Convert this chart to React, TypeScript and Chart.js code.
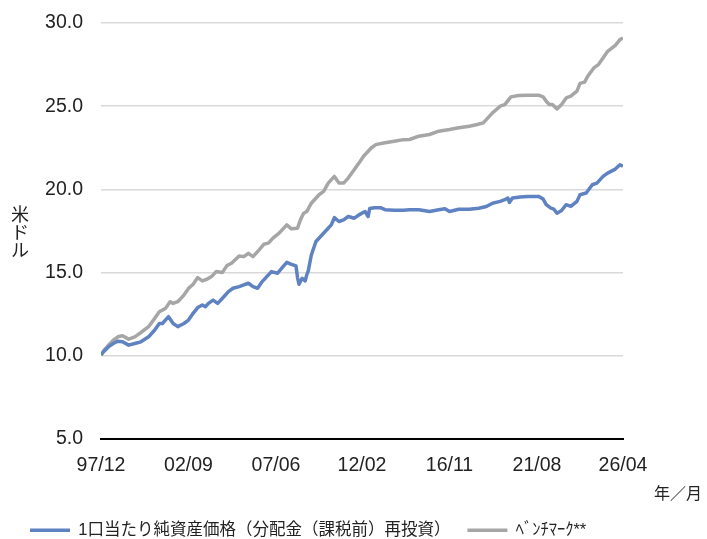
import { useEffect, useRef } from 'react';
import { Chart, registerables } from 'chart.js';

Chart.register(...registerables);

// x = months since 1997/12
const tickMonths = [0, 57, 114, 170, 227, 284, 340];
const tickLabels = ['97/12', '02/09', '07/06', '12/02', '16/11', '21/08', '26/04'];

const navMonths = [0, 2, 5, 8, 11, 14, 18, 22, 26, 31, 35, 38, 40, 44, 47, 50, 54, 57, 60, 63, 66, 68, 70, 73, 76, 80, 83, 86, 90, 93, 96, 99, 102, 105, 108, 111, 115, 118, 121, 124, 127, 128, 129, 131, 133, 134, 135, 137, 140, 143, 146, 150, 152, 155, 158, 161, 165, 168, 172, 174, 175, 178, 182, 185, 191, 197, 201, 207, 214, 220, 224, 227, 233, 240, 246, 251, 255, 260, 263, 265, 266, 268, 273, 278, 285, 288, 290, 293, 295, 297, 300, 303, 306, 310, 312, 316, 320, 323, 327, 330, 335, 338, 340];
const navValues = [10.05, 10.28, 10.55, 10.74, 10.88, 10.84, 10.64, 10.74, 10.84, 11.14, 11.55, 11.94, 11.94, 12.35, 11.94, 11.75, 11.94, 12.15, 12.55, 12.9, 13.05, 12.95, 13.15, 13.35, 13.15, 13.55, 13.86, 14.06, 14.16, 14.26, 14.36, 14.16, 14.06, 14.46, 14.76, 15.06, 14.96, 15.3, 15.62, 15.5, 15.4, 14.7, 14.3, 14.66, 14.5, 14.86, 15.1, 16.06, 16.87, 17.17, 17.47, 17.87, 18.3, 18.07, 18.17, 18.37, 18.27, 18.47, 18.67, 18.37, 18.85, 18.9, 18.9, 18.78, 18.75, 18.75, 18.78, 18.78, 18.67, 18.78, 18.84, 18.67, 18.81, 18.81, 18.87, 18.97, 19.17, 19.28, 19.38, 19.48, 19.22, 19.48, 19.54, 19.58, 19.58, 19.42, 19.08, 18.87, 18.81, 18.57, 18.73, 19.08, 18.98, 19.28, 19.68, 19.78, 20.28, 20.38, 20.78, 20.98, 21.22, 21.48, 21.4];

const benchMonths = [0, 2, 5, 8, 11, 14, 18, 22, 26, 31, 35, 38, 42, 45, 47, 50, 54, 57, 60, 63, 66, 69, 72, 75, 79, 82, 85, 90, 93, 96, 99, 103, 106, 109, 112, 116, 121, 124, 128, 130, 132, 134, 137, 142, 145, 148, 152, 155, 158, 161, 165, 168, 171, 176, 179, 184, 191, 197, 201, 207, 214, 220, 227, 233, 240, 245, 249, 252, 255, 260, 263, 267, 272, 278, 285, 288, 290, 292, 294, 297, 300, 303, 306, 310, 312, 315, 317, 321, 324, 327, 330, 335, 338, 340];
const benchValues = [10.05, 10.34, 10.65, 10.94, 11.14, 11.2, 11.0, 11.14, 11.4, 11.75, 12.25, 12.65, 12.85, 13.25, 13.15, 13.25, 13.65, 14.05, 14.3, 14.7, 14.5, 14.6, 14.76, 15.06, 15.0, 15.42, 15.56, 16.0, 15.96, 16.16, 15.96, 16.37, 16.7, 16.77, 17.07, 17.37, 17.87, 17.63, 17.67, 18.2, 18.57, 18.67, 19.17, 19.68, 19.88, 20.38, 20.78, 20.38, 20.38, 20.68, 21.19, 21.58, 21.99, 22.49, 22.69, 22.79, 22.89, 22.99, 23.0, 23.2, 23.3, 23.5, 23.6, 23.7, 23.8, 23.9, 24.0, 24.3, 24.6, 25.0, 25.1, 25.56, 25.64, 25.66, 25.66, 25.56, 25.3, 25.1, 25.1, 24.84, 25.1, 25.5, 25.6, 25.9, 26.37, 26.45, 26.8, 27.3, 27.5, 27.9, 28.3, 28.66, 29.0, 29.1];

const seriesNames = ['1口当たり純資産価格（分配金（課税前）再投資）', 'ﾍﾞﾝﾁﾏｰｸ**'];
const yTitle = '米ドル';
const xTitle = '年／月';

const BLUE = '#5F82C2';
const GRAY = '#A6A6A6';
const TEXT = '#222222';
const LATIN = '"Liberation Sans", Arial, sans-serif';
const CJK = '"Liberation Sans", "Noto Sans CJK JP", sans-serif';

const axisTextPlugin = {
  id: 'axisText',
  afterDraw(chart: any) {
    const ctx = chart.ctx;
    const area = chart.chartArea;
    ctx.save();
    ctx.fillStyle = TEXT;
    ctx.font = '18px "Noto Sans CJK JP"';
    ctx.textAlign = 'center';
    ctx.textBaseline = 'middle';
    const chars = Array.from(yTitle);
    const cy = (area.top + area.bottom) / 2 + 1;
    chars.forEach((c, i) => {
      ctx.fillText(c, 20, cy + (i - (chars.length - 1) / 2) * 18);
    });
    ctx.font = '16px "Noto Sans CJK JP"';
    ctx.textAlign = 'right';
    ctx.fillText(xTitle, chart.width - 5, 493);
    ctx.restore();
  },
};

export default function App() {
  const ref = useRef<HTMLCanvasElement>(null);
  useEffect(() => {
    if (!ref.current) return;
    const chart = new Chart(ref.current, {
      type: 'line',
      data: {
        datasets: [
          {
            label: seriesNames[0],
            data: navMonths.map((m, i) => ({ x: m, y: navValues[i] })),
            borderColor: BLUE,
            backgroundColor: BLUE,
            borderWidth: 3.5,
            pointRadius: 0,
            tension: 0,
            borderJoinStyle: 'round',
          },
          {
            label: seriesNames[1],
            data: benchMonths.map((m, i) => ({ x: m, y: benchValues[i] })),
            borderColor: GRAY,
            backgroundColor: GRAY,
            borderWidth: 3.5,
            pointRadius: 0,
            tension: 0,
            borderJoinStyle: 'round',
          },
        ],
      },
      options: {
        animation: false,
        responsive: false,
        layout: { padding: { top: 23, right: 84, left: 13, bottom: 0 } },
        scales: {
          x: {
            type: 'linear',
            min: 0,
            max: 340,
            afterBuildTicks: (scale: any) => {
              scale.ticks = tickMonths.map((v) => ({ value: v }));
            },
            afterFit: (scale: any) => {
              scale.height = 66;
            },
            grid: { display: false, drawTicks: false },
            border: { display: true, color: '#000000', width: 2 },
            ticks: {
              autoSkip: false,
              maxRotation: 0,
              padding: 15,
              color: TEXT,
              font: { family: LATIN, size: 19.5 },
              callback: (v: any) => {
                const i = tickMonths.indexOf(Number(v));
                return i >= 0 ? tickLabels[i] : '';
              },
            },
          },
          y: {
            min: 5,
            max: 30,
            afterFit: (scale: any) => {
              scale.width = 88;
              scale.paddingTop = 10;
              scale.paddingBottom = 10;
            },
            grid: { color: '#D9D9D9', lineWidth: 1.5, drawTicks: false },
            border: { display: false },
            ticks: {
              stepSize: 5,
              padding: 18,
              color: TEXT,
              font: { family: LATIN, size: 19.5 },
              callback: (v: any) => Number(v).toFixed(1),
            },
          },
        },
        plugins: {
          tooltip: { enabled: false },
          legend: {
            position: 'bottom',
            align: 'start',
            maxHeight: 34,
            labels: {
              usePointStyle: true,
              pointStyle: 'line',
              pointStyleWidth: 40,
              boxHeight: 3,
              padding: 17,
              color: TEXT,
              font: { family: CJK, size: 16.5 },
            },
          },
        },
      },
      plugins: [axisTextPlugin],
    } as any);
    return () => chart.destroy();
  }, []);
  return (
    <div style={{ position: 'absolute', left: 0, top: 0, width: 707, height: 539 }}>
      <canvas ref={ref} width={707} height={539} />
    </div>
  );
}
